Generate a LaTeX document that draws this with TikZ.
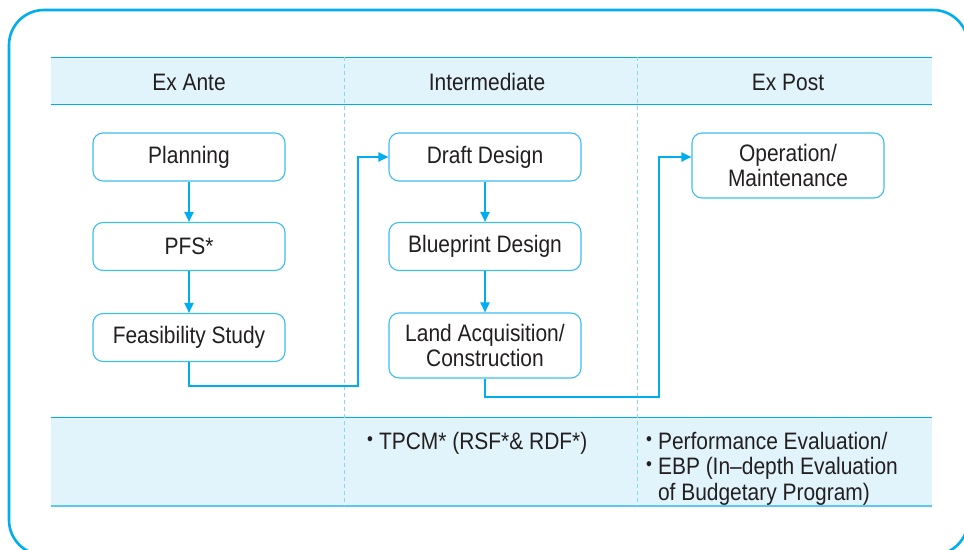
\documentclass[tikz,border=0pt]{standalone}
\usepackage{fontspec}
\setmainfont[FakeStretch=0.88]{Liberation Sans}
\usetikzlibrary{arrows.meta}
\definecolor{frameblue}{HTML}{00AEEF}
\definecolor{boxblue}{HTML}{3DBDF0}
\definecolor{bandfill}{HTML}{E1F3FB}
\definecolor{bandline}{HTML}{5CC8F2}
\definecolor{divider}{HTML}{8CD5F4}
\definecolor{inktext}{HTML}{231F20}
\newcommand\bulletmark{{\fontsize{19}{19}\selectfont\raisebox{4pt}{•}}\hspace{6pt}}
\tikzset{
  label/.style={font=\fontsize{23.8}{25.5}\selectfont, text=inktext, inner sep=0pt},
  stepbox/.style={label, draw=boxblue, line width=1.1pt, rounded corners=10pt,
    fill=white, minimum width=192pt, minimum height=48pt, align=center},
  tallbox/.style={stepbox, minimum height=65pt},
  flow/.style={draw=frameblue, line width=2pt, -{Triangle[length=10pt,width=9pt]}},
  divline/.style={draw=divider, line width=1pt, dash pattern=on 4pt off 3pt},
  note/.style={label, anchor=base west},
}
\begin{document}
\begin{tikzpicture}[x=1pt,y=-1pt]
\useasboundingbox (0,0) rectangle (964,549);
\clip (0,0) rectangle (964,549);

% outer frame
\draw[frameblue, line width=2.6pt, rounded corners=35pt] (9,10) rectangle (968,555);

% header and footer bands
\fill[bandfill] (51,57) rectangle (932,104);
\draw[frameblue, line width=0.9pt] (51,57) -- (932,57) (51,104) -- (932,104);
\fill[bandfill] (51,417) rectangle (932,506);
\draw[frameblue, line width=0.9pt] (51,417) -- (932,417);
\draw[bandline, line width=1.8pt] (51,506) -- (932,506);

% column dividers
\draw[divline] (344,57) -- (344,506);
\draw[divline] (637,57) -- (637,506);

% column headings
\node[label] (hante) at (189,82) {Ex Ante};
\node[label] (hmid)  at (487,82) {Intermediate};
\node[label] (hpost) at (788,82) {Ex Post};

% process steps
\node[stepbox] (plan)  at (189,157)   {Planning};
\node[stepbox] (pfs)   at (189,246.5) {PFS*};
\node[stepbox] (feas)  at (189,337.5) {Feasibility Study};
\node[stepbox] (draft) at (485,157)   {Draft Design};
\node[stepbox] (blue)  at (485,246.5) {Blueprint Design};
\node[tallbox] (land)  at (485,345.5) {Land Acquisition/\\Construction};
\node[tallbox] (oper)  at (788,165.5) {Operation/\\Maintenance};

% connectors
\coordinate (turnA) at (358,386);
\coordinate (turnB) at (659,397);
\draw[flow] (plan) -- (pfs);
\draw[flow] (pfs) -- (feas);
\draw[flow] (draft) -- (blue);
\draw[flow] (blue) -- (land);
\draw[flow] (feas.south) |- (turnA) |- (draft.west);
\draw[flow] (land.south) |- (turnB) |- ([yshift=8.5pt]oper.west);

% evaluation notes
\node[note] (ntpcm) at (367,449) {\bulletmark TPCM* (RSF*\& RDF*)};
\node[note] (neval1) at (646,449) {\bulletmark Performance Evaluation/};
\node[note] (neval2) at (646,474.5) {\bulletmark EBP (In–depth Evaluation};
\node[note] (neval3) at (646,500) {\phantom{\bulletmark}of Budgetary Program)};
\end{tikzpicture}
\end{document}
